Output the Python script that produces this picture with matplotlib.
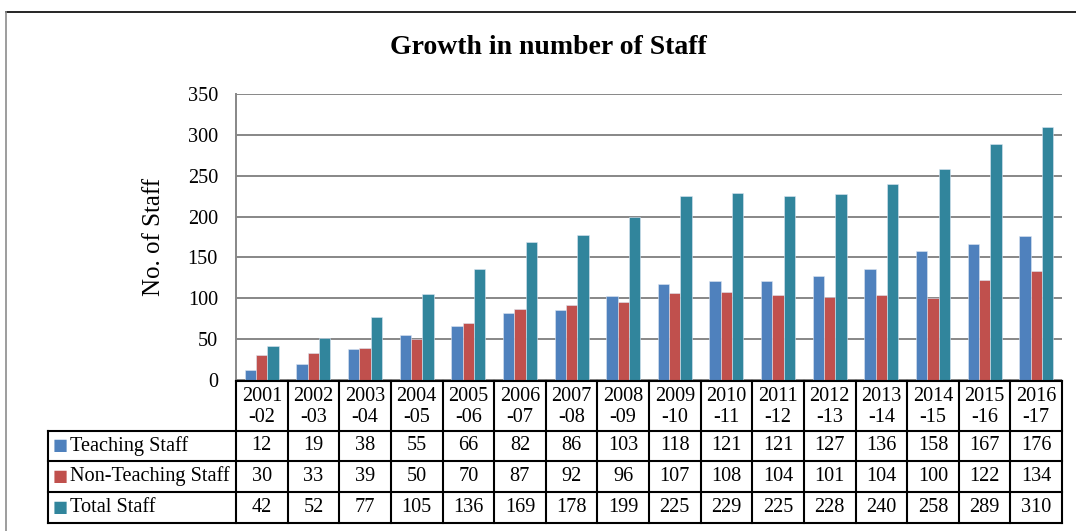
import matplotlib
matplotlib.use("Agg")
import matplotlib.pyplot as plt
import numpy as np

plt.rcParams['font.family'] = ['Liberation Serif', 'DejaVu Serif']

# data
years = ["2001\n-02", "2002\n-03", "2003\n-04", "2004\n-05", "2005\n-06", "2006\n-07",
         "2007\n-08", "2008\n-09", "2009\n-10", "2010\n-11", "2011\n-12", "2012\n-13",
         "2013\n-14", "2014\n-15", "2015\n-16", "2016\n-17"]
teaching = [12, 19, 38, 55, 66, 82, 86, 103, 118, 121, 121, 127, 136, 158, 167, 176]
non_teaching = [30, 33, 39, 50, 70, 87, 92, 96, 107, 108, 104, 101, 104, 100, 122, 134]
total = [42, 52, 77, 105, 136, 169, 178, 199, 225, 229, 225, 228, 240, 258, 289, 310]

series_names = ["Teaching Staff", "Non-Teaching Staff", "Total Staff"]
series = [teaching, non_teaching, total]
colors = ["#4F81BD", "#C0504D", "#31859C"]

W, H = 1076, 531
fig = plt.figure(figsize=(W / 100, H / 100), dpi=100)

def fx(px):
    return px / W

def fy(py):
    return 1 - py / H

# outer chart border
fig.add_artist(plt.Line2D([fx(6), 1], [fy(12), fy(12)], color="black", lw=1.2))
fig.add_artist(plt.Line2D([fx(6), fx(6)], [fy(12), 0], color="#8c8c8c", lw=1.2))

plot_left, plot_right = 236, 1062
ax = fig.add_axes([fx(plot_left), fy(380), fx(plot_right) - fx(plot_left), fy(94) - fy(380)])

n = len(years)
x = np.arange(n)
bw = 0.22
for i, (vals, col) in enumerate(zip(series, colors)):
    ax.bar(x + (i - 1) * bw, vals, width=bw, color=col, edgecolor="#dce6f2",
           linewidth=0.4, zorder=3)

ax.set_xlim(-0.5, n - 0.5)
ax.set_ylim(0, 350)
ax.set_yticks(np.arange(0, 351, 50))
ax.set_xticks([])
ax.tick_params(axis="y", length=0, pad=13, labelsize=14.6)
ax.yaxis.grid(True, color="#878787", linewidth=1.4, zorder=0)
for s in ["top", "right", "bottom"]:
    ax.spines[s].set_visible(False)
ax.spines["left"].set_color("#878787")
ax.spines["left"].set_linewidth(1.4)
ax.set_ylabel("No. of Staff", fontsize=18, labelpad=16)

fig.text(fx(548), fy(47), "Growth in number of Staff", ha="center", va="center",
         fontsize=20, fontweight="bold")

# data table under the plot
tax = fig.add_axes([fx(plot_left), fy(523), fx(plot_right) - fx(plot_left), fy(381) - fy(523)])
tax.set_xlim(-0.5, n - 0.5)
tax.set_ylim(142, 0)
tax.axis("off")

row_edges = [0, 50, 80, 111, 142]
col_px = (plot_right - plot_left) / n
label_w = (plot_left - 48) / col_px  # label column width in columns
left_edge = -0.5 - label_w
lw = 1.5

# horizontal lines
tax.plot([-0.5, n - 0.5], [0, 0], color="black", lw=lw, clip_on=False)
for yv in row_edges[1:]:
    tax.plot([left_edge, n - 0.5], [yv, yv], color="black", lw=lw, clip_on=False)
# vertical lines
for k in range(n + 1):
    tax.plot([k - 0.5, k - 0.5], [0, 142], color="black", lw=lw, clip_on=False)
tax.plot([left_edge, left_edge], [50, 142], color="black", lw=lw, clip_on=False)

for k, yr in enumerate(years):
    tax.text(k, 26, yr, ha="center", va="center", fontsize=14.6, linespacing=1.2)

for r, (name, vals, col) in enumerate(zip(series_names, series, colors)):
    yc = (row_edges[r + 1] + row_edges[r + 2]) / 2
    tax.text(left_edge + 5 / col_px, yc, "\u25A0", color=col, ha="left", va="center",
             fontsize=11.5, family="DejaVu Sans", clip_on=False)
    tax.text(left_edge + 22 / col_px, yc, name, ha="left", va="center", fontsize=14.6,
             clip_on=False)
    for k, v in enumerate(vals):
        tax.text(k, yc, str(v), ha="center", va="center", fontsize=14.6)

fig.savefig("out.png", dpi=100)
